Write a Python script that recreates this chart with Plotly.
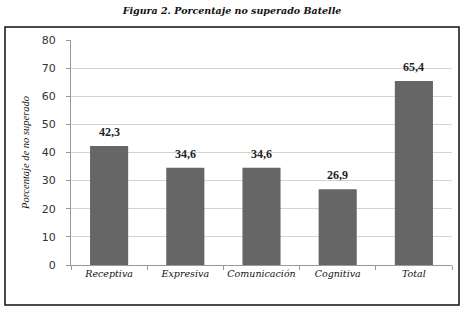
import plotly.graph_objects as go

categories = ["Receptiva", "Expresiva", "Comunicación", "Cognitiva", "Total"]
values = [42.3, 34.6, 34.6, 26.9, 65.4]
y_ticks = [0, 10, 20, 30, 40, 50, 60, 70, 80]

W, H = 464, 311
L, R, T, B = 71, 12, 40, 46
pw, ph = W - L - R, H - T - B

def px_x(x):
    return (x - L) / pw

def px_y(y):
    return (H - B - y) / ph

fig = go.Figure(go.Bar(
    x=categories, y=values,
    marker=dict(color="#666666", line=dict(width=0)),
))

for c, v in zip(categories, values):
    fig.add_annotation(x=c, y=v, text="<b>" + f"{v:.1f}".replace(".", ",") + "</b>",
                       showarrow=False, yanchor="bottom", yshift=5,
                       font=dict(family="Liberation Serif", size=12, color="#222222"))

fig.update_layout(
    width=W, height=H,
    margin=dict(l=L, r=R, t=T, b=B, autoexpand=False),
    paper_bgcolor="white", plot_bgcolor="white",
    bargap=0.5,
    showlegend=False,
    title=dict(text="<b><i>Figura 2. Porcentaje no superado Batelle</i></b>",
               x=0.5, xanchor="center", y=1 - 11 / H, yanchor="middle",
               font=dict(family="DejaVu Serif", size=9.5, color="#111111")),
    xaxis=dict(tickson="boundaries", ticks="outside", ticklen=4, tickcolor="#999999",
               showline=True, linecolor="#999999", linewidth=1,
               tickangle=0, automargin=False,
               tickfont=dict(family="DejaVu Serif", size=9.5, color="#111111"),
               tickprefix="<i>", ticksuffix="</i>"),
    yaxis=dict(range=[0, 80], tickvals=y_ticks, ticks="outside", ticklen=4,
               tickcolor="#999999", showline=True, linecolor="#999999",
               gridcolor="#d4d4d4", gridwidth=1, ticklabelstandoff=8,
               automargin=False,
               tickfont=dict(family="DejaVu Sans", size=11, color="#333333"),
               title=dict(text="<i>Porcentaje de no superado</i>", standoff=10,
                          font=dict(family="Liberation Serif", size=10.5, color="#111111"))),
    shapes=[dict(type="rect", xref="paper", yref="paper",
                 x0=px_x(5), x1=px_x(459), y0=px_y(305), y1=px_y(27),
                 line=dict(color="#111111", width=1.5), fillcolor="rgba(0,0,0,0)",
                 layer="above")],
)

fig.write_html("out.html", config={"displayModeBar": False},
               post_script="document.body.style.margin='0';")
